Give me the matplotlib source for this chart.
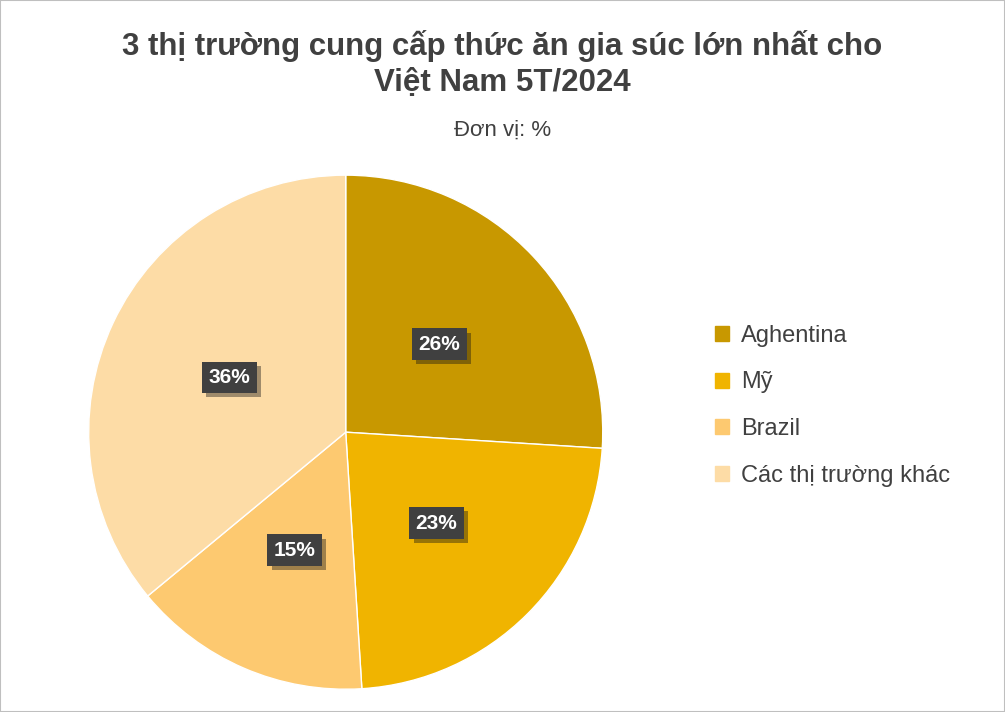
import matplotlib
matplotlib.use("Agg")
import matplotlib.pyplot as plt
from matplotlib.patches import Rectangle
import matplotlib.patheffects as pe
import numpy as np

plt.rcParams['font.family'] = ['Liberation Sans', 'DejaVu Sans']

labels = ["Aghentina", "Mỹ", "Brazil", "Các thị trường khác"]
values = [26, 23, 15, 36]
colors = ["#C89800", "#F0B400", "#FDC970", "#FDDCA6"]

fig = plt.figure(figsize=(10.05, 7.12), dpi=100)
fig.patches.append(Rectangle((0, 0), 1, 1, transform=fig.transFigure,
                             fill=False, edgecolor="#BFBFBF", linewidth=1.5))

fig.text(0.5, 0.91, "3 thị trường cung cấp thức ăn gia súc lớn nhất cho\nViệt Nam 5T/2024",
         ha="center", va="center", fontsize=22.5, fontweight="bold", color="#404040",
         linespacing=1.25)
fig.text(0.5, 0.817, "Đơn vị: %", ha="center", va="center", fontsize=16, color="#404040")

ax = fig.add_axes([0.088, 0.032, 0.512, 0.722])
wedges, texts = ax.pie(values, colors=colors, startangle=90, counterclock=False,
                       wedgeprops=dict(linewidth=1, edgecolor="white"))
ax.set_aspect("equal")
ax.set_xlim(-1, 1)
ax.set_ylim(-1, 1)

for w, v in zip(wedges, values):
    ang = np.deg2rad((w.theta1 + w.theta2) / 2)
    x, y = 0.5 * np.cos(ang), 0.5 * np.sin(ang)
    ax.text(x, y, f"{v}%", ha="center", va="center", fontsize=15, fontweight="bold",
            color="white",
            bbox=dict(boxstyle="square,pad=0.3", facecolor="#404040", edgecolor="none",
                      path_effects=[pe.withSimplePatchShadow(offset=(3, -3), alpha=0.4)]))

handles = [Rectangle((0, 0), 1, 1, color=c) for c in colors]
leg = fig.legend(handles, labels, loc="center left", bbox_to_anchor=(0.69, 0.43),
                 frameon=False, fontsize=17, handlelength=0.6, handleheight=0.6,
                 labelspacing=1.05, handletextpad=0.5)
for t in leg.get_texts():
    t.set_color("#404040")

fig.savefig("out.png", dpi=100)
